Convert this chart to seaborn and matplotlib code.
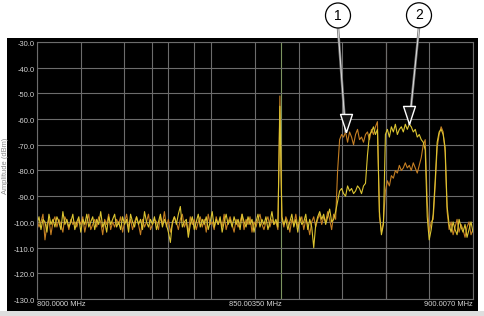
import numpy as np
import pandas as pd
import matplotlib
matplotlib.use('Agg')
import matplotlib.pyplot as plt
import seaborn as sns
from matplotlib.patches import Rectangle, Circle
import matplotlib.transforms as mtransforms

sns.set_style('white')
plt.rcParams['font.family'] = ['Liberation Sans', 'DejaVu Sans']

# ---------------- data ----------------
f_start, f_stop = 800.0, 900.007
n_points = 220

yellow_floor = [
    -101, -98, -103, -99, -100, -104, -97, -101, -99, -102, -98, -100, -103, -96, -101, -99, -102, -100, -97, -103,
    -100, -98, -104, -99, -101, -97, -102, -100, -98, -103, -99, -101, -96, -102, -100, -104, -98, -101, -99, -97,
    -102, -100, -103, -98, -101, -99, -104, -97, -100, -102, -98, -101, -99, -103, -96, -100, -102, -99, -101, -98,
    -103, -100, -97, -102, -99, -101, -104, -108, -100, -98, -101, -97, -94, -102, -100, -99, -106, -101, -98, -103,
    -100, -97, -102, -99, -101, -98, -103, -100, -96, -102, -99, -101, -98, -104, -100, -97, -101, -99, -102, -98,
    -101, -99, -103, -97, -100, -102, -98, -101, -99, -104, -100, -97, -102, -99, -101, -98, -103, -100, -96, -101,
    -99, -102, -55, -98, -101, -99, -103, -100, -97, -102, -99, -104, -98, -101, -100, -97, -103, -99, -102, -110,
    -101, -98, -96, -99, -97, -101, -98, -95, -100, -99, -96,
]
yellow_band = [
    -92,
    -88, -87, -89, -90, -86, -88, -87, -89, -88, -86, -87, -89, -86, -85,
    -74, -66, -65, -63, -66, -64,
    -96, -105, -101,
    -66, -64, -67, -63, -65, -62, -66, -64, -63, -65, -62, -64, -62, -63, -65, -64, -67, -66, -68, -69, -72,
    -98, -107, -103,
    -97, -84, -69, -65, -64, -66, -71, -94,
    -101, -104, -100, -103, -105, -99, -102, -104, -101, -106, -103, -100, -104,
]

orange_floor = [
    -99, -102, -100, -97, -107, -101, -99, -105, -100, -98, -102, -99, -101, -104, -98, -100, -103, -99, -101, -100,
    -102, -99, -101, -98, -104, -100, -97, -103, -101, -99, -102, -98, -100, -105, -99, -101, -97, -103, -100, -102,
    -99, -101, -98, -104, -100, -97, -102, -99, -103, -100, -98, -101, -105, -99, -102, -100, -97, -103, -101, -99,
    -100, -103, -98, -101, -96, -102, -99, -104, -101, -98, -100, -103, -99, -97, -102, -100, -104, -98, -101, -99,
    -103, -100, -98, -102, -99, -104, -97, -101, -100, -103, -98, -101, -99, -102, -97, -103, -100, -98, -101, -104,
    -99, -102, -100, -97, -103, -99, -101, -98, -104, -100, -102, -99, -97, -101, -103, -100, -98, -102, -99, -101,
    -100, -103, -51, -99, -102, -98, -100, -104, -99, -101, -97, -102, -100, -98, -103, -99, -101, -105, -100, -98,
    -102, -99, -97, -101, -98, -100, -96, -99, -103, -97, -99,
]
orange_band = [
    -80,
    -68, -66, -67, -65, -69, -65, -67, -70, -66, -64, -68, -67, -69, -66,
    -65, -68, -64, -66, -63, -61,
    -98, -104, -100,
    -88, -84, -86, -82, -83, -80, -81, -78, -80, -79, -77, -79, -78, -80, -77, -79, -81, -78, -75, -70, -68,
    -92, -104, -100,
    -99, -86, -71, -66, -63, -65, -73, -96,
    -103, -100, -105, -102, -99, -104, -101, -103, -106, -102, -100, -105, -103,
]

y_ticks = [-30, -40, -50, -60, -70, -80, -90, -100, -110, -120, -130]
x_tick_labels = ['800.0000 MHz', '', '', '', '', '850.00350 MHz', '', '', '', '', '900.0070 MHz']
marker_index = [155, 187]
marker_labels = ['1', '2']
extra_gray_lines = [826.4, 836.0]
green_line = 855.9
pink_line = 880.006

freq = np.linspace(f_start, f_stop, n_points)
yellow = np.array(yellow_floor + yellow_band, dtype=float)
orange = np.array(orange_floor + orange_band, dtype=float)
assert len(yellow) == n_points and len(orange) == n_points

# ---------------- figure ----------------
W, H = 485, 316
fig = plt.figure(figsize=(W / 100, H / 100), dpi=100, facecolor='white')

# black instrument frame and grey bottom strip
fig.add_artist(Rectangle((7 / W, 1 - 311 / H), (478 - 7) / W, (311 - 38) / H,
                         transform=fig.transFigure, fc='black', ec='none', zorder=-2))
fig.add_artist(Rectangle((0, 0), 1, 5 / H, transform=fig.transFigure,
                         fc='#dedede', ec='none', zorder=-2))

ax = fig.add_axes([37 / W, 1 - 299 / H, 436 / W, 257 / H])
ax.set_facecolor('black')

sns.lineplot(x=freq, y=orange, ax=ax, color='#c47e22', lw=0.8, sort=False, estimator=None)
sns.lineplot(x=freq, y=yellow, ax=ax, color='#dcc531', lw=0.8, sort=False, estimator=None)

ax.set_xlim(f_start, f_stop)
ax.set_ylim(-130, -30)
ax.set_xticks(np.linspace(f_start, f_stop, 11))
ax.set_xticklabels(x_tick_labels)
ax.set_yticks(y_ticks)
ax.set_yticklabels([f'{v:.1f}' for v in y_ticks])
ax.grid(True, color='#6c6c6c', lw=0.8)
ax.set_axisbelow(True)
for xv in extra_gray_lines:
    ax.axvline(xv, color='#6c6c6c', lw=0.8, zorder=0.5)
ax.axvline(green_line, color='#7c9460', lw=0.8, zorder=0.5)
ax.axvline(pink_line, color='#b8907c', lw=0.8, zorder=0.5)

ax.tick_params(axis='both', length=0, labelsize=5.4, labelcolor='#d4d4d4')
ax.tick_params(axis='x', pad=1.5)
ax.tick_params(axis='y', pad=1.5)
xl = ax.get_xticklabels()
xl[0].set_ha('left')
xl[-1].set_ha('right')
offset = mtransforms.ScaledTranslation(0, -1.5 / 100, fig.dpi_scale_trans)
for lbl in ax.get_yticklabels():
    lbl.set_transform(lbl.get_transform() + offset)
for s in ax.spines.values():
    s.set_color('#6c6c6c')
    s.set_linewidth(0.8)
ax.set_xlabel('')
ax.set_ylabel('')

fig.text(6 / W, 1 - 166 / H, 'Amplitude (dBm)', rotation=90, ha='center', va='center',
         fontsize=5.4, color='#8c8c8c')

# markers with call-out circles
circle_px = [(338, 15.5), (419, 15.3)]
tri = [(0, 0), (-0.33, 1), (0.33, 1), (0, 0)]
for (idx, lab, (cx, cy)) in zip(marker_index, marker_labels, circle_px):
    mx = freq[idx]
    my = orange[idx] if lab == '1' else yellow[idx]
    for col, lw in (('#7a7a7a', 1.8), ('#e6e6e6', 0.6)):
        ax.annotate('', xy=(mx, my), xycoords='data', xytext=(cx, H - cy - 12.5),
                    textcoords='figure pixels', annotation_clip=False,
                    arrowprops=dict(arrowstyle='-', color=col, lw=lw, shrinkA=0, shrinkB=0))
    ax.plot([mx], [my], marker=tri, markersize=26, mfc='#141414', mec='white', mew=1.0,
            ls='none', zorder=6, clip_on=False)
    fig.add_artist(Circle((cx / 100, (H - cy) / 100), 0.125, transform=fig.dpi_scale_trans,
                          fc='white', ec='black', lw=0.9, zorder=5))
    fig.text(cx / W, 1 - cy / H, lab, ha='center', va='center', fontsize=10, color='black', zorder=6)

fig.savefig('out.png', dpi=100)
